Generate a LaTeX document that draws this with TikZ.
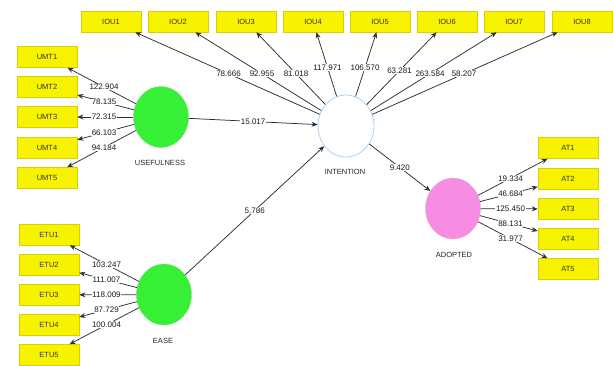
\documentclass[tikz,border=0pt]{standalone}
\usepackage{fontspec}
\setmainfont{Liberation Sans}
\usetikzlibrary{arrows.meta,calc,shapes.geometric}
\definecolor{boxyel}{HTML}{F7F200}
\definecolor{boxedge}{HTML}{D8D000}
\definecolor{latgreen}{HTML}{35F035}
\definecolor{latpink}{HTML}{F68DE2}
\definecolor{intedge}{HTML}{A9D2F2}
\definecolor{linegrey}{HTML}{2E2E2E}
\begin{document}
\begin{tikzpicture}[x=1pt,y=-1pt,
  indbox/.style={draw=boxedge,fill=boxyel,line width=0.6pt,minimum width=60pt,minimum height=21pt,inner sep=0pt,font=\fontsize{7.5}{8}\selectfont,text=black!80},
  latent/.style={ellipse,minimum width=55pt,minimum height=61pt,inner sep=0pt},
  lattext/.style={font=\fontsize{7.5}{8}\selectfont,text=black!85},
  conn/.style={draw=linegrey,line width=0.75pt,-{Stealth[length=6pt,width=5pt]}},
  val/.style={fill=white,inner sep=0.6pt,font=\fontsize{8}{9}\selectfont,text=black!90}
]
\useasboundingbox (0,0) rectangle (613,365);
% latents
\node[latent,fill=latgreen,draw=latgreen!80!black!60] (use) at (161,117) {};
\node[latent,fill=white,draw=intedge,line width=0.8pt,minimum width=56pt,minimum height=62pt] (int) at (346,126) {};
\node[latent,fill=latgreen,draw=latgreen!80!black!60] (ease) at (164,294.5) {};
\node[latent,fill=latpink,draw=latpink!85!black!60] (adp) at (453,208.5) {};
\node[lattext] (uselab) at (160,163) {USEFULNESS};
\node[lattext] (intlab) at (345,172) {INTENTION};
\node[lattext] (easelab) at (163,341) {EASE};
\node[lattext] (adplab) at (454,255) {ADOPTED};
% indicator boxes
\foreach \i/\x in {1/111,2/178,3/246,4/313,5/380,6/447,7/514,8/582}
  \node[indbox] (iou\i) at (\x,21.5) {IOU\i};
\foreach \i/\y in {1/57,2/87,3/117,4/148,5/178}
  \node[indbox] (umt\i) at (47,\y) {UMT\i};
\foreach \i/\y in {1/234.5,2/265,3/295,4/325,5/355}
  \node[indbox] (etu\i) at (49,\y) {ETU\i};
\foreach \i/\y in {1/148,2/179,3/209,4/239,5/269}
  \node[indbox] (at\i) at (568,\y) {AT\i};
% connectors
\foreach \i/\v in {1/122.904,2/78.135,3/72.315,4/66.103,5/94.184}{
  \draw[conn] (use) -- (umt\i);
  \node[val] at ($(use)!0.5!(umt\i)$) {\v};}
\foreach \i/\v in {1/103.247,2/111.007,3/118.009,4/87.729,5/100.004}{
  \draw[conn] (ease) -- (etu\i);
  \node[val] at ($(ease)!0.5!(etu\i)$) {\v};}
\foreach \i/\v in {1/19.334,2/46.684,3/125.450,4/88.131,5/31.977}{
  \draw[conn] (adp) -- (at\i);
  \node[val] at ($(adp)!0.5!(at\i)$) {\v};}
\foreach \i/\v/\p in {1/78.666/0.5,2/92.955/0.5,3/81.018/0.5,4/117.971/0.56,5/106.570/0.56,6/63.281/0.53,7/263.584/0.5,8/58.207/0.5}{
  \draw[conn] (int) -- (iou\i);
  \node[val] at ($(int)!\p!(iou\i)$) {\v};}
\draw[conn] (use) -- (int) node[val,pos=0.5] {15.017};
\draw[conn] (ease) -- (int) node[val,pos=0.5] {5.786};
\draw[conn] (int) -- (adp) node[val,pos=0.5] {9.420};
\end{tikzpicture}
\end{document}
